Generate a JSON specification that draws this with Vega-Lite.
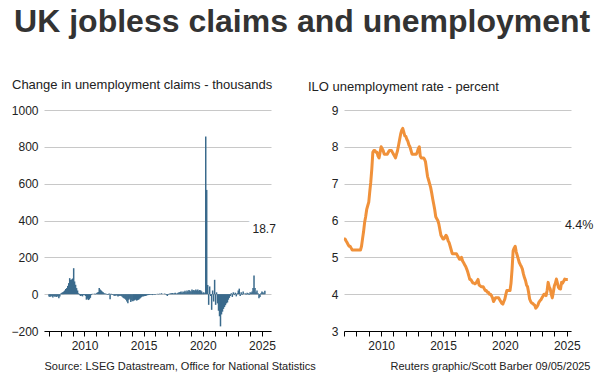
{
  "$schema": "https://vega.github.io/schema/vega-lite/v6.json",
  "background": "white",
  "autosize": {"type": "pad"},
  "padding": {"left": 10, "top": 6, "right": 5, "bottom": 5},
  "title": {"text": "UK jobless claims and unemployment", "font": "Liberation Sans", "fontSize": 32, "fontWeight": "bold", "color": "#333333", "anchor": "middle", "offset": 40},
  "config": {
    "font": "Liberation Sans",
    "view": {"stroke": null},
    "axis": {"labelFont": "Liberation Sans", "titleFont": "Liberation Sans", "labelFontSize": 12, "labelColor": "#222222"},
    "title": {"font": "Liberation Sans", "fontWeight": "normal", "color": "#222222"}
  },
  "spacing": 73,
  "bounds": "flush",
  "datasets": {
    "claims": [
      {"date":"2007-01-01","change":-12},{"date":"2007-02-01","change":-15},{"date":"2007-03-01","change":-10},{"date":"2007-04-01","change":-12},{"date":"2007-05-01","change":-18},{"date":"2007-06-01","change":-10},{"date":"2007-07-01","change":-14},{"date":"2007-08-01","change":-12},{"date":"2007-09-01","change":-15},{"date":"2007-10-01","change":-10},{"date":"2007-11-01","change":-22},{"date":"2007-12-01","change":-12},
      {"date":"2008-01-01","change":3},{"date":"2008-02-01","change":8},{"date":"2008-03-01","change":10},{"date":"2008-04-01","change":14},{"date":"2008-05-01","change":20},{"date":"2008-06-01","change":28},{"date":"2008-07-01","change":33},{"date":"2008-08-01","change":45},{"date":"2008-09-01","change":60},{"date":"2008-10-01","change":87},{"date":"2008-11-01","change":78},{"date":"2008-12-01","change":80},
      {"date":"2009-01-01","change":85},{"date":"2009-02-01","change":141},{"date":"2009-03-01","change":69},{"date":"2009-04-01","change":51},{"date":"2009-05-01","change":33},{"date":"2009-06-01","change":20},{"date":"2009-07-01","change":5},{"date":"2009-08-01","change":-5},{"date":"2009-09-01","change":-10},{"date":"2009-10-01","change":-8},{"date":"2009-11-01","change":-12},{"date":"2009-12-01","change":-5},
      {"date":"2010-01-01","change":-5},{"date":"2010-02-01","change":-10},{"date":"2010-03-01","change":-30},{"date":"2010-04-01","change":-25},{"date":"2010-05-01","change":-32},{"date":"2010-06-01","change":-28},{"date":"2010-07-01","change":-20},{"date":"2010-08-01","change":-5},{"date":"2010-09-01","change":2},{"date":"2010-10-01","change":0},{"date":"2010-11-01","change":3},{"date":"2010-12-01","change":-2},
      {"date":"2011-01-01","change":5},{"date":"2011-02-01","change":8},{"date":"2011-03-01","change":12},{"date":"2011-04-01","change":33},{"date":"2011-05-01","change":25},{"date":"2011-06-01","change":20},{"date":"2011-07-01","change":15},{"date":"2011-08-01","change":10},{"date":"2011-09-01","change":5},{"date":"2011-10-01","change":3},{"date":"2011-11-01","change":2},{"date":"2011-12-01","change":-3},
      {"date":"2012-01-01","change":-5},{"date":"2012-02-01","change":3},{"date":"2012-03-01","change":-27},{"date":"2012-04-01","change":2},{"date":"2012-05-01","change":-5},{"date":"2012-06-01","change":-3},{"date":"2012-07-01","change":-8},{"date":"2012-08-01","change":-10},{"date":"2012-09-01","change":-5},{"date":"2012-10-01","change":-8},{"date":"2012-11-01","change":-12},{"date":"2012-12-01","change":-10},
      {"date":"2013-01-01","change":-8},{"date":"2013-02-01","change":-10},{"date":"2013-03-01","change":-12},{"date":"2013-04-01","change":-18},{"date":"2013-05-01","change":-22},{"date":"2013-06-01","change":-25},{"date":"2013-07-01","change":-30},{"date":"2013-08-01","change":-40},{"date":"2013-09-01","change":-49},{"date":"2013-10-01","change":-30},{"date":"2013-11-01","change":-25},{"date":"2013-12-01","change":-43},
      {"date":"2014-01-01","change":-35},{"date":"2014-02-01","change":-38},{"date":"2014-03-01","change":-35},{"date":"2014-04-01","change":-33},{"date":"2014-05-01","change":-30},{"date":"2014-06-01","change":-35},{"date":"2014-07-01","change":-32},{"date":"2014-08-01","change":-30},{"date":"2014-09-01","change":-25},{"date":"2014-10-01","change":-20},{"date":"2014-11-01","change":-15},{"date":"2014-12-01","change":-12},
      {"date":"2015-01-01","change":-12},{"date":"2015-02-01","change":-10},{"date":"2015-03-01","change":-10},{"date":"2015-04-01","change":-8},{"date":"2015-05-01","change":-5},{"date":"2015-06-01","change":-5},{"date":"2015-07-01","change":-4},{"date":"2015-08-01","change":-3},{"date":"2015-09-01","change":-3},{"date":"2015-10-01","change":-5},{"date":"2015-11-01","change":-2},{"date":"2015-12-01","change":-3},
      {"date":"2016-01-01","change":-3},{"date":"2016-02-01","change":0},{"date":"2016-03-01","change":2},{"date":"2016-04-01","change":-2},{"date":"2016-05-01","change":3},{"date":"2016-06-01","change":1},{"date":"2016-07-01","change":5},{"date":"2016-08-01","change":2},{"date":"2016-09-01","change":0},{"date":"2016-10-01","change":3},{"date":"2016-11-01","change":2},{"date":"2016-12-01","change":-4},
      {"date":"2017-01-01","change":-10},{"date":"2017-02-01","change":-3},{"date":"2017-03-01","change":2},{"date":"2017-04-01","change":3},{"date":"2017-05-01","change":5},{"date":"2017-06-01","change":6},{"date":"2017-07-01","change":3},{"date":"2017-08-01","change":5},{"date":"2017-09-01","change":8},{"date":"2017-10-01","change":2},{"date":"2017-11-01","change":5},{"date":"2017-12-01","change":8},
      {"date":"2018-01-01","change":10},{"date":"2018-02-01","change":12},{"date":"2018-03-01","change":15},{"date":"2018-04-01","change":8},{"date":"2018-05-01","change":15},{"date":"2018-06-01","change":12},{"date":"2018-07-01","change":18},{"date":"2018-08-01","change":10},{"date":"2018-09-01","change":20},{"date":"2018-10-01","change":15},{"date":"2018-11-01","change":22},{"date":"2018-12-01","change":18},
      {"date":"2019-01-01","change":14},{"date":"2019-02-01","change":25},{"date":"2019-03-01","change":20},{"date":"2019-04-01","change":22},{"date":"2019-05-01","change":18},{"date":"2019-06-01","change":25},{"date":"2019-07-01","change":20},{"date":"2019-08-01","change":25},{"date":"2019-09-01","change":18},{"date":"2019-10-01","change":22},{"date":"2019-11-01","change":20},{"date":"2019-12-01","change":15},
      {"date":"2020-01-01","change":5},{"date":"2020-02-01","change":10},{"date":"2020-03-01","change":5},{"date":"2020-04-01","change":856},{"date":"2020-05-01","change":566},{"date":"2020-06-01","change":50},{"date":"2020-07-01","change":-58},{"date":"2020-08-01","change":42},{"date":"2020-09-01","change":-10},{"date":"2020-10-01","change":-85},{"date":"2020-11-01","change":20},{"date":"2020-12-01","change":-40},
      {"date":"2021-01-01","change":78},{"date":"2021-02-01","change":-58},{"date":"2021-03-01","change":10},{"date":"2021-04-01","change":-50},{"date":"2021-05-01","change":-90},{"date":"2021-06-01","change":-120},{"date":"2021-07-01","change":-175},{"date":"2021-08-01","change":-110},{"date":"2021-09-01","change":-95},{"date":"2021-10-01","change":-80},{"date":"2021-11-01","change":-70},{"date":"2021-12-01","change":-60},
      {"date":"2022-01-01","change":-50},{"date":"2022-02-01","change":-45},{"date":"2022-03-01","change":-30},{"date":"2022-04-01","change":-20},{"date":"2022-05-01","change":-10},{"date":"2022-06-01","change":5},{"date":"2022-07-01","change":-15},{"date":"2022-08-01","change":10},{"date":"2022-09-01","change":-5},{"date":"2022-10-01","change":8},{"date":"2022-11-01","change":-12},{"date":"2022-12-01","change":5},
      {"date":"2023-01-01","change":20},{"date":"2023-02-01","change":30},{"date":"2023-03-01","change":-10},{"date":"2023-04-01","change":10},{"date":"2023-05-01","change":-5},{"date":"2023-06-01","change":15},{"date":"2023-07-01","change":0},{"date":"2023-08-01","change":5},{"date":"2023-09-01","change":-3},{"date":"2023-10-01","change":8},{"date":"2023-11-01","change":5},{"date":"2023-12-01","change":-5},
      {"date":"2024-01-01","change":10},{"date":"2024-02-01","change":8},{"date":"2024-03-01","change":15},{"date":"2024-04-01","change":33},{"date":"2024-05-01","change":101},{"date":"2024-06-01","change":33},{"date":"2024-07-01","change":10},{"date":"2024-08-01","change":20},{"date":"2024-09-01","change":5},{"date":"2024-10-01","change":-22},{"date":"2024-11-01","change":-15},{"date":"2024-12-01","change":5},
      {"date":"2025-01-01","change":15},{"date":"2025-02-01","change":10},{"date":"2025-03-01","change":5},{"date":"2025-04-01","change":18.7}
    ],
    "rate": [
      {"date":"2007-01-01","rate":5.5},{"date":"2007-02-01","rate":5.5},{"date":"2007-03-01","rate":5.45},{"date":"2007-04-01","rate":5.4},{"date":"2007-05-01","rate":5.35},{"date":"2007-06-01","rate":5.3},{"date":"2007-07-01","rate":5.3},{"date":"2007-08-01","rate":5.25},{"date":"2007-09-01","rate":5.2},{"date":"2007-10-01","rate":5.2},{"date":"2007-11-01","rate":5.2},{"date":"2007-12-01","rate":5.2},
      {"date":"2008-01-01","rate":5.2},{"date":"2008-02-01","rate":5.2},{"date":"2008-03-01","rate":5.2},{"date":"2008-04-01","rate":5.2},{"date":"2008-05-01","rate":5.2},{"date":"2008-06-01","rate":5.3},{"date":"2008-07-01","rate":5.5},{"date":"2008-08-01","rate":5.7},{"date":"2008-09-01","rate":5.95},{"date":"2008-10-01","rate":6.1},{"date":"2008-11-01","rate":6.3},{"date":"2008-12-01","rate":6.4},
      {"date":"2009-01-01","rate":6.5},{"date":"2009-02-01","rate":6.8},{"date":"2009-03-01","rate":7.04},{"date":"2009-04-01","rate":7.4},{"date":"2009-05-01","rate":7.85},{"date":"2009-06-01","rate":7.9},{"date":"2009-07-01","rate":7.9},{"date":"2009-08-01","rate":7.85},{"date":"2009-09-01","rate":7.85},{"date":"2009-10-01","rate":7.75},{"date":"2009-11-01","rate":7.7},{"date":"2009-12-01","rate":7.85},
      {"date":"2010-01-01","rate":8.0},{"date":"2010-02-01","rate":7.95},{"date":"2010-03-01","rate":7.9},{"date":"2010-04-01","rate":7.8},{"date":"2010-05-01","rate":7.8},{"date":"2010-06-01","rate":7.8},{"date":"2010-07-01","rate":7.8},{"date":"2010-08-01","rate":7.85},{"date":"2010-09-01","rate":7.9},{"date":"2010-10-01","rate":7.9},{"date":"2010-11-01","rate":7.9},{"date":"2010-12-01","rate":7.85},
      {"date":"2011-01-01","rate":7.8},{"date":"2011-02-01","rate":7.75},{"date":"2011-03-01","rate":7.7},{"date":"2011-04-01","rate":7.8},{"date":"2011-05-01","rate":7.9},{"date":"2011-06-01","rate":8.05},{"date":"2011-07-01","rate":8.2},{"date":"2011-08-01","rate":8.35},{"date":"2011-09-01","rate":8.45},{"date":"2011-10-01","rate":8.5},{"date":"2011-11-01","rate":8.4},{"date":"2011-12-01","rate":8.3},
      {"date":"2012-01-01","rate":8.28},{"date":"2012-02-01","rate":8.2},{"date":"2012-03-01","rate":8.15},{"date":"2012-04-01","rate":8.05},{"date":"2012-05-01","rate":8.0},{"date":"2012-06-01","rate":7.9},{"date":"2012-07-01","rate":7.8},{"date":"2012-08-01","rate":7.8},{"date":"2012-09-01","rate":7.8},{"date":"2012-10-01","rate":7.8},{"date":"2012-11-01","rate":7.8},{"date":"2012-12-01","rate":7.85},
      {"date":"2013-01-01","rate":7.95},{"date":"2013-02-01","rate":8.0},{"date":"2013-03-01","rate":7.75},{"date":"2013-04-01","rate":7.7},{"date":"2013-05-01","rate":7.7},{"date":"2013-06-01","rate":7.7},{"date":"2013-07-01","rate":7.67},{"date":"2013-08-01","rate":7.6},{"date":"2013-09-01","rate":7.4},{"date":"2013-10-01","rate":7.2},{"date":"2013-11-01","rate":7.1},{"date":"2013-12-01","rate":7.0},
      {"date":"2014-01-01","rate":6.9},{"date":"2014-02-01","rate":6.75},{"date":"2014-03-01","rate":6.6},{"date":"2014-04-01","rate":6.45},{"date":"2014-05-01","rate":6.3},{"date":"2014-06-01","rate":6.1},{"date":"2014-07-01","rate":6.05},{"date":"2014-08-01","rate":6.0},{"date":"2014-09-01","rate":5.9},{"date":"2014-10-01","rate":5.75},{"date":"2014-11-01","rate":5.6},{"date":"2014-12-01","rate":5.55},
      {"date":"2015-01-01","rate":5.5},{"date":"2015-02-01","rate":5.5},{"date":"2015-03-01","rate":5.55},{"date":"2015-04-01","rate":5.6},{"date":"2015-05-01","rate":5.55},{"date":"2015-06-01","rate":5.45},{"date":"2015-07-01","rate":5.4},{"date":"2015-08-01","rate":5.3},{"date":"2015-09-01","rate":5.2},{"date":"2015-10-01","rate":5.1},{"date":"2015-11-01","rate":5.1},{"date":"2015-12-01","rate":5.1},
      {"date":"2016-01-01","rate":5.1},{"date":"2016-02-01","rate":5.1},{"date":"2016-03-01","rate":5.05},{"date":"2016-04-01","rate":5.0},{"date":"2016-05-01","rate":4.95},{"date":"2016-06-01","rate":4.95},{"date":"2016-07-01","rate":5.0},{"date":"2016-08-01","rate":4.9},{"date":"2016-09-01","rate":4.85},{"date":"2016-10-01","rate":4.8},{"date":"2016-11-01","rate":4.75},{"date":"2016-12-01","rate":4.68},
      {"date":"2017-01-01","rate":4.6},{"date":"2017-02-01","rate":4.5},{"date":"2017-03-01","rate":4.4},{"date":"2017-04-01","rate":4.4},{"date":"2017-05-01","rate":4.35},{"date":"2017-06-01","rate":4.3},{"date":"2017-07-01","rate":4.3},{"date":"2017-08-01","rate":4.28},{"date":"2017-09-01","rate":4.3},{"date":"2017-10-01","rate":4.35},{"date":"2017-11-01","rate":4.4},{"date":"2017-12-01","rate":4.25},
      {"date":"2018-01-01","rate":4.23},{"date":"2018-02-01","rate":4.2},{"date":"2018-03-01","rate":4.2},{"date":"2018-04-01","rate":4.2},{"date":"2018-05-01","rate":4.15},{"date":"2018-06-01","rate":4.1},{"date":"2018-07-01","rate":4.1},{"date":"2018-08-01","rate":4.05},{"date":"2018-09-01","rate":4.05},{"date":"2018-10-01","rate":4.0},{"date":"2018-11-01","rate":4.0},{"date":"2018-12-01","rate":3.96},
      {"date":"2019-01-01","rate":3.9},{"date":"2019-02-01","rate":3.8},{"date":"2019-03-01","rate":3.85},{"date":"2019-04-01","rate":3.9},{"date":"2019-05-01","rate":3.9},{"date":"2019-06-01","rate":3.9},{"date":"2019-07-01","rate":3.9},{"date":"2019-08-01","rate":3.85},{"date":"2019-09-01","rate":3.8},{"date":"2019-10-01","rate":3.75},{"date":"2019-11-01","rate":3.73},{"date":"2019-12-01","rate":3.8},
      {"date":"2020-01-01","rate":3.87},{"date":"2020-02-01","rate":4.0},{"date":"2020-03-01","rate":4.1},{"date":"2020-04-01","rate":4.1},{"date":"2020-05-01","rate":4.1},{"date":"2020-06-01","rate":4.1},{"date":"2020-07-01","rate":4.3},{"date":"2020-08-01","rate":4.68},{"date":"2020-09-01","rate":5.18},{"date":"2020-10-01","rate":5.25},{"date":"2020-11-01","rate":5.3},{"date":"2020-12-01","rate":5.15},
      {"date":"2021-01-01","rate":5.05},{"date":"2021-02-01","rate":4.95},{"date":"2021-03-01","rate":4.86},{"date":"2021-04-01","rate":4.8},{"date":"2021-05-01","rate":4.75},{"date":"2021-06-01","rate":4.68},{"date":"2021-07-01","rate":4.55},{"date":"2021-08-01","rate":4.45},{"date":"2021-09-01","rate":4.37},{"date":"2021-10-01","rate":4.25},{"date":"2021-11-01","rate":4.2},{"date":"2021-12-01","rate":4.05},
      {"date":"2022-01-01","rate":3.87},{"date":"2022-02-01","rate":3.8},{"date":"2022-03-01","rate":3.76},{"date":"2022-04-01","rate":3.75},{"date":"2022-05-01","rate":3.72},{"date":"2022-06-01","rate":3.7},{"date":"2022-07-01","rate":3.62},{"date":"2022-08-01","rate":3.65},{"date":"2022-09-01","rate":3.7},{"date":"2022-10-01","rate":3.78},{"date":"2022-11-01","rate":3.82},{"date":"2022-12-01","rate":3.85},
      {"date":"2023-01-01","rate":3.9},{"date":"2023-02-01","rate":3.95},{"date":"2023-03-01","rate":4.0},{"date":"2023-04-01","rate":4.0},{"date":"2023-05-01","rate":3.96},{"date":"2023-06-01","rate":4.1},{"date":"2023-07-01","rate":4.32},{"date":"2023-08-01","rate":4.2},{"date":"2023-09-01","rate":4.14},{"date":"2023-10-01","rate":4.0},{"date":"2023-11-01","rate":3.9},{"date":"2023-12-01","rate":4.05},
      {"date":"2024-01-01","rate":4.23},{"date":"2024-02-01","rate":4.3},{"date":"2024-03-01","rate":4.41},{"date":"2024-04-01","rate":4.3},{"date":"2024-05-01","rate":4.18},{"date":"2024-06-01","rate":4.15},{"date":"2024-07-01","rate":4.14},{"date":"2024-08-01","rate":4.32},{"date":"2024-09-01","rate":4.3},{"date":"2024-10-01","rate":4.35},{"date":"2024-11-01","rate":4.41},{"date":"2024-12-01","rate":4.4},
      {"date":"2025-01-01","rate":4.4},{"date":"2025-02-01","rate":4.4}
    ],
    "claimsLabel": [{"date":"2024-03-14","y":354,"text":"18.7"}],
    "rateLabel": [{"date":"2024-11-07","y":5.89,"text":"4.4%"}]
  },
  "hconcat": [
    {
      "width": 227,
      "height": 221,
      "title": {"text": "Change in unemployment claims - thousands", "anchor": "start", "frame": "group", "dx": -32, "fontSize": 13, "offset": 12},
      "layer": [
        {
          "data": {"name": "claims"},
          "mark": {"type": "bar", "color": "#3a6a8c", "width": 1.5},
          "encoding": {
            "x": {"field": "date", "type": "temporal",
              "scale": {"type": "utc", "domain": [{"year": 2007, "month": 1, "date": 1, "utc": true}, {"year": 2025, "month": 5, "date": 6, "utc": true}]},
              "axis": {
                "values": [{"year":2007,"month":1,"date":1,"utc":true},{"year":2008,"month":1,"date":1,"utc":true},{"year":2009,"month":1,"date":1,"utc":true},{"year":2010,"month":1,"date":1,"utc":true},{"year":2011,"month":1,"date":1,"utc":true},{"year":2012,"month":1,"date":1,"utc":true},{"year":2013,"month":1,"date":1,"utc":true},{"year":2014,"month":1,"date":1,"utc":true},{"year":2015,"month":1,"date":1,"utc":true},{"year":2016,"month":1,"date":1,"utc":true},{"year":2017,"month":1,"date":1,"utc":true},{"year":2018,"month":1,"date":1,"utc":true},{"year":2019,"month":1,"date":1,"utc":true},{"year":2020,"month":1,"date":1,"utc":true},{"year":2021,"month":1,"date":1,"utc":true},{"year":2022,"month":1,"date":1,"utc":true},{"year":2023,"month":1,"date":1,"utc":true},{"year":2024,"month":1,"date":1,"utc":true},{"year":2025,"month":1,"date":1,"utc":true}],
                "tickCount": 40,
                "labelExpr": "utcyear(datum.value) % 5 == 0 ? utcFormat(datum.value, '%Y') : ''",
                "labelOverlap": false, "labelFlush": false, "grid": false,
                "domain": true, "ticks": true,
                "domainColor": "#000000", "tickColor": "#000000", "tickSize": 5, "labelPadding": 4,
                "title": "Source: LSEG Datastream, Office for National Statistics",
                "titleAnchor": "start", "titleAlign": "left", "titleFontSize": 11, "titleFontWeight": "normal", "titleColor": "#222222", "titlePadding": 9
              }
            },
            "y": {"field": "change", "type": "quantitative",
              "scale": {"domain": [-200, 1000], "nice": false},
              "axis": {"values": [-200, 0, 200, 400, 600, 800, 1000], "tickCount": 20, "format": "d", "labelOverlap": false, "domain": false, "ticks": false, "tickSize": 0, "labelPadding": 6, "grid": true, "gridColor": "#c8c8c8", "title": null}
            }
          }
        },
        {
          "mark": {"type": "rule", "color": "#222222", "strokeWidth": 1},
          "encoding": {"y": {"datum": 0}}
        },
        {
          "data": {"name": "claimsLabel"},
          "mark": {"type": "text", "align": "left", "baseline": "middle", "fontSize": 12, "stroke": "white", "strokeWidth": 12, "strokeJoin": "round", "fill": "white"},
          "encoding": {"x": {"field": "date", "type": "temporal"}, "y": {"field": "y", "type": "quantitative"}, "text": {"field": "text"}}
        },
        {
          "data": {"name": "claimsLabel"},
          "mark": {"type": "text", "align": "left", "baseline": "middle", "fontSize": 12, "color": "#222222"},
          "encoding": {"x": {"field": "date", "type": "temporal"}, "y": {"field": "y", "type": "quantitative"}, "text": {"field": "text"}}
        }
      ]
    },
    {
      "width": 227,
      "height": 221,
      "title": {"text": "ILO unemployment rate - percent", "anchor": "start", "frame": "group", "dx": -36, "fontSize": 13, "offset": 10},
      "layer": [
        {
          "data": {"name": "rate"},
          "mark": {"type": "line", "color": "#f0913a", "strokeWidth": 3, "strokeJoin": "round"},
          "encoding": {
            "x": {"field": "date", "type": "temporal",
              "scale": {"type": "utc", "domain": [{"year": 2007, "month": 1, "date": 1, "utc": true}, {"year": 2025, "month": 5, "date": 6, "utc": true}]},
              "axis": {
                "values": [{"year":2007,"month":1,"date":1,"utc":true},{"year":2008,"month":1,"date":1,"utc":true},{"year":2009,"month":1,"date":1,"utc":true},{"year":2010,"month":1,"date":1,"utc":true},{"year":2011,"month":1,"date":1,"utc":true},{"year":2012,"month":1,"date":1,"utc":true},{"year":2013,"month":1,"date":1,"utc":true},{"year":2014,"month":1,"date":1,"utc":true},{"year":2015,"month":1,"date":1,"utc":true},{"year":2016,"month":1,"date":1,"utc":true},{"year":2017,"month":1,"date":1,"utc":true},{"year":2018,"month":1,"date":1,"utc":true},{"year":2019,"month":1,"date":1,"utc":true},{"year":2020,"month":1,"date":1,"utc":true},{"year":2021,"month":1,"date":1,"utc":true},{"year":2022,"month":1,"date":1,"utc":true},{"year":2023,"month":1,"date":1,"utc":true},{"year":2024,"month":1,"date":1,"utc":true},{"year":2025,"month":1,"date":1,"utc":true}],
                "tickCount": 40,
                "labelExpr": "utcyear(datum.value) % 5 == 0 ? utcFormat(datum.value, '%Y') : ''",
                "labelOverlap": false, "labelFlush": false, "grid": false,
                "domain": true, "ticks": true,
                "domainColor": "#000000", "tickColor": "#000000", "tickSize": 5, "labelPadding": 4,
                "title": "Reuters graphic/Scott Barber 09/05/2025",
                "titleX": 246, "titleAlign": "right", "titleFontSize": 11, "titleFontWeight": "normal", "titleColor": "#222222", "titlePadding": 9
              }
            },
            "y": {"field": "rate", "type": "quantitative",
              "scale": {"domain": [3, 9], "nice": false, "zero": false},
              "axis": {"values": [3, 4, 5, 6, 7, 8, 9], "tickCount": 20, "format": "d", "labelOverlap": false, "domain": false, "ticks": false, "tickSize": 0, "labelPadding": 6, "grid": true, "gridColor": "#c8c8c8", "title": null}
            }
          }
        },
        {
          "data": {"name": "rateLabel"},
          "mark": {"type": "text", "align": "left", "baseline": "middle", "fontSize": 12.5, "stroke": "white", "strokeWidth": 12, "strokeJoin": "round", "fill": "white"},
          "encoding": {"x": {"field": "date", "type": "temporal"}, "y": {"field": "y", "type": "quantitative"}, "text": {"field": "text"}}
        },
        {
          "data": {"name": "rateLabel"},
          "mark": {"type": "text", "align": "left", "baseline": "middle", "fontSize": 12.5, "color": "#222222"},
          "encoding": {"x": {"field": "date", "type": "temporal"}, "y": {"field": "y", "type": "quantitative"}, "text": {"field": "text"}}
        }
      ]
    }
  ]
}
